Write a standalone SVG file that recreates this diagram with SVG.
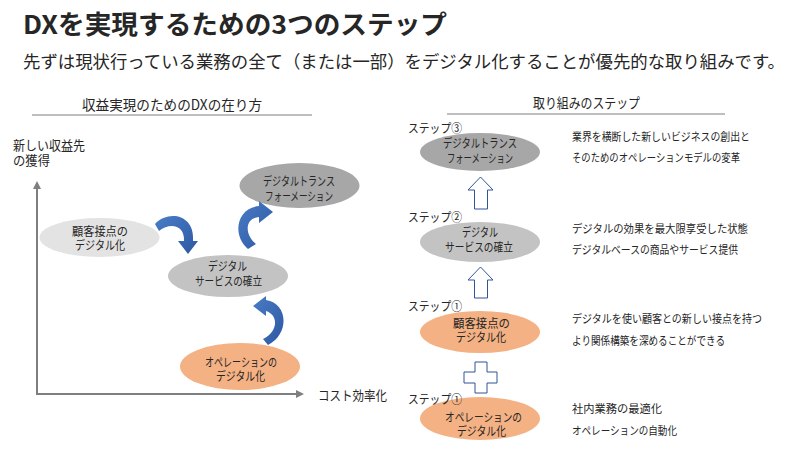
<svg xmlns="http://www.w3.org/2000/svg" width="800" height="449" viewBox="0 0 800 449">
<defs>
<style>
text{font-family:"Noto Sans CJK JP","Noto Sans",sans-serif;fill:#262626;}
.t{font-size:12px;}
.d{font-size:11.5px;}
.h{font-size:14px;}
.s{font-size:13px;}
.ax{stroke:#7f7f7f;stroke-width:2;fill:none;}
.rule{stroke:#7f7f7f;stroke-width:1;}
.curv{fill:url(#bl);}
.blk{fill:#fff;stroke:#2f5597;stroke-width:1;}
.g1{fill:#e3e3e3;}
.g2{fill:#c3c3c3;}
.g3{fill:#a7a7a7;}
.or{fill:#f4b183;}
</style>
<linearGradient id="bl" x1="0" y1="0" x2="1" y2="1">
<stop offset="0" stop-color="#4a7cc6"/>
<stop offset="1" stop-color="#2d58a3"/>
</linearGradient>
<marker id="axh" markerWidth="8" markerHeight="8" refX="6" refY="4" orient="auto" markerUnits="userSpaceOnUse">
<path d="M0,0 L8,4 L0,8 Z" fill="#7f7f7f"/>
</marker>
</defs>
<rect width="800" height="449" fill="#fff"/>

<text x="23" y="34" font-size="26" font-weight="bold" textLength="424" lengthAdjust="spacingAndGlyphs" fill="#000">DXを実現するための3つのステップ</text>
<text x="23" y="68" font-size="17.5" textLength="762" lengthAdjust="spacingAndGlyphs">先ずは現状行っている業務の全て（または一部）をデジタル化することが優先的な取り組みです。</text>

<g id="left-header">
<text class="h" x="82" y="110" textLength="180" lengthAdjust="spacingAndGlyphs">収益実現のためのDXの在り方</text>
<line class="rule" x1="32" y1="115" x2="312" y2="115"/>
</g>
<g id="right-header">
<text class="h" x="533" y="108" textLength="107" lengthAdjust="spacingAndGlyphs">取り組みのステップ</text>
<line class="rule" x1="447" y1="114" x2="725" y2="114"/>
</g>

<g id="axes">
<line class="ax" x1="37" y1="394" x2="37" y2="183" marker-end="url(#axh)"/>
<line class="ax" x1="36" y1="394" x2="302" y2="394" marker-end="url(#axh)"/>
<text class="s" x="13" y="150" textLength="72" lengthAdjust="spacingAndGlyphs">新しい収益先</text>
<text class="s" x="13" y="165" textLength="37" lengthAdjust="spacingAndGlyphs">の獲得</text>
<text class="s" x="318" y="400" textLength="69" lengthAdjust="spacingAndGlyphs">コスト効率化</text>
</g>

<g id="node-l-customer">
<ellipse class="g1" cx="99.5" cy="237.5" rx="60" ry="19.5"/>
<text class="t" x="72" y="236" textLength="56" lengthAdjust="spacingAndGlyphs">顧客接点の</text>
<text class="t" x="75" y="250" textLength="50" lengthAdjust="spacingAndGlyphs">デジタル化</text>
</g>
<g id="node-l-dx">
<ellipse class="g3" cx="299.5" cy="185.5" rx="60" ry="22.5"/>
<text class="t" x="263" y="186" textLength="72" lengthAdjust="spacingAndGlyphs">デジタルトランス</text>
<text class="t" x="265" y="201" textLength="68" lengthAdjust="spacingAndGlyphs">フォーメーション</text>
</g>
<g id="node-l-service">
<ellipse class="g2" cx="228" cy="276" rx="60" ry="21"/>
<text class="t" x="208" y="271" textLength="39" lengthAdjust="spacingAndGlyphs">デジタル</text>
<text class="t" x="195" y="286" textLength="67" lengthAdjust="spacingAndGlyphs">サービスの確立</text>
</g>
<g id="node-l-ops">
<ellipse class="or" cx="240" cy="366.5" rx="60" ry="23.5"/>
<text class="t" x="205" y="367" textLength="72" lengthAdjust="spacingAndGlyphs">オペレーションの</text>
<text class="t" x="216" y="381" textLength="49" lengthAdjust="spacingAndGlyphs">デジタル化</text>
</g>

<g id="node-r-dx">
<ellipse class="g3" cx="480" cy="152" rx="60" ry="19"/>
<text class="t" x="408" y="133" textLength="54" lengthAdjust="spacingAndGlyphs">ステップ③</text>
<text class="t" x="443" y="148" textLength="74" lengthAdjust="spacingAndGlyphs">デジタルトランス</text>
<text class="t" x="447" y="163" textLength="66" lengthAdjust="spacingAndGlyphs">フォーメーション</text>
<text class="d" x="572" y="141" textLength="178" lengthAdjust="spacingAndGlyphs">業界を横断した新しいビジネスの創出と</text>
<text class="d" x="572" y="162" textLength="168" lengthAdjust="spacingAndGlyphs">そのためのオペレーションモデルの変革</text>
</g>
<g id="node-r-service">
<ellipse class="g2" cx="480" cy="242" rx="60" ry="20"/>
<text class="t" x="408" y="222" textLength="54" lengthAdjust="spacingAndGlyphs">ステップ②</text>
<text class="t" x="462" y="237" textLength="36" lengthAdjust="spacingAndGlyphs">デジタル</text>
<text class="t" x="445" y="252" textLength="68" lengthAdjust="spacingAndGlyphs">サービスの確立</text>
<text class="d" x="572" y="233" textLength="176" lengthAdjust="spacingAndGlyphs">デジタルの効果を最大限享受した状態</text>
<text class="d" x="572" y="254" textLength="166" lengthAdjust="spacingAndGlyphs">デジタルベースの商品やサービス提供</text>
</g>
<g id="node-r-customer">
<ellipse class="or" cx="480" cy="332" rx="60" ry="21"/>
<text class="t" x="408" y="311" textLength="54" lengthAdjust="spacingAndGlyphs">ステップ①</text>
<text class="t" x="453" y="328" textLength="57" lengthAdjust="spacingAndGlyphs">顧客接点の</text>
<text class="t" x="456" y="342" textLength="50" lengthAdjust="spacingAndGlyphs">デジタル化</text>
<text class="d" x="572" y="323" textLength="190" lengthAdjust="spacingAndGlyphs">デジタルを使い顧客との新しい接点を持つ</text>
<text class="d" x="572" y="345" textLength="153" lengthAdjust="spacingAndGlyphs">より関係構築を深めることができる</text>
</g>
<g id="node-r-ops">
<ellipse class="or" cx="480" cy="418.5" rx="60" ry="21.5"/>
<text class="t" x="408" y="404" textLength="54" lengthAdjust="spacingAndGlyphs">ステップ①</text>
<text class="t" x="445" y="422" textLength="77" lengthAdjust="spacingAndGlyphs">オペレーションの</text>
<text class="t" x="457" y="436" textLength="49" lengthAdjust="spacingAndGlyphs">デジタル化</text>
<text class="d" x="572" y="413" textLength="90" lengthAdjust="spacingAndGlyphs">社内業務の最適化</text>
<text class="d" x="572" y="435" textLength="105" lengthAdjust="spacingAndGlyphs">オペレーションの自動化</text>
</g>

<g id="connectors">
<path class="curv" d="M155,224 C168,210 195,214 193,241 L198,241 L188,254 L178,241 L184,241 C185,225 170,222 159,231 Z"/>
<path class="curv" d="M248,249 C232,236 236,208 259,206 L259,201 L273,212 L259,223 L259,217 C245,218 244,234 256,244 Z"/>
<path class="curv" d="M268,345 C290,334 288,303 266,300 L266,296 L253,306 L266,316 L266,311 C279,315 278,332 263,339 Z"/>
<polygon class="blk" points="480.5,177 493,190 487.5,190 487.5,209 474.5,209 474.5,190 468,190"/>
<polygon class="blk" points="480.5,267 493,280 487.5,280 487.5,298 474.5,298 474.5,280 468,280"/>
<polygon class="blk" points="475,362 487,362 487,372 497,372 497,383 487,383 487,393 475,393 475,383 464,383 464,372 475,372"/>
</g>
</svg>
